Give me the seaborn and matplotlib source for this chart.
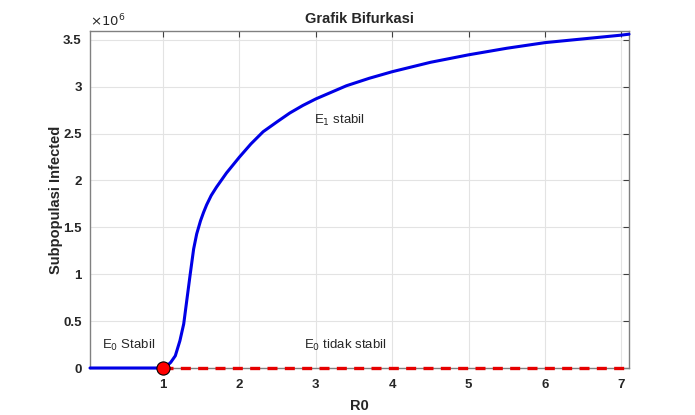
import matplotlib
matplotlib.use("Agg")
import matplotlib.pyplot as plt
import seaborn as sns
import numpy as np
import pandas as pd
from matplotlib.ticker import FuncFormatter

# Data
r0_e1 = [0.043, 1.0, 1.03, 1.06, 1.10, 1.16, 1.22, 1.27, 1.31, 1.355, 1.40, 1.44, 1.49,
         1.53, 1.57, 1.63, 1.70, 1.83, 2.0, 2.15, 2.31, 2.5, 2.66, 2.83, 3.0, 3.2, 3.4,
         3.7, 4.0, 4.5, 5.0, 5.5, 6.0, 6.5, 7.0, 7.1]
inf_e1 = [0, 0, 0.01e6, 0.03e6, 0.06e6, 0.13e6, 0.29e6, 0.47e6, 0.72e6, 1.0e6, 1.27e6,
          1.43e6, 1.57e6, 1.66e6, 1.74e6, 1.84e6, 1.93e6, 2.08e6, 2.25e6, 2.39e6, 2.52e6,
          2.63e6, 2.72e6, 2.80e6, 2.87e6, 2.94e6, 3.01e6, 3.09e6, 3.16e6, 3.26e6, 3.34e6,
          3.41e6, 3.47e6, 3.51e6, 3.55e6, 3.56e6]
r0_e0 = [1.0, 7.1]
inf_e0 = [0, 0]
bif_r0 = [1.0]
bif_inf = [0]
x_ticks = [1, 2, 3, 4, 5, 6, 7]
y_ticks = [0, 0.5e6, 1e6, 1.5e6, 2e6, 2.5e6, 3e6, 3.5e6]

sns.set_style("white")
plt.rcParams['font.family'] = ['Liberation Sans', 'DejaVu Sans']

fig = plt.figure(figsize=(6.95, 4.15), dpi=100)
ax = fig.add_axes([90/695, 47/415, 539/695, 337/415])

df1 = pd.DataFrame({"R0": r0_e1, "I": inf_e1})
df0 = pd.DataFrame({"R0": r0_e0, "I": inf_e0})
sns.lineplot(data=df1, x="R0", y="I", ax=ax, color="#0000e6", linewidth=2.2, sort=False, zorder=3)
sns.lineplot(data=df0, x="R0", y="I", ax=ax, color="#e60000", linewidth=2.4, zorder=4)
ax.lines[-1].set_linestyle((0, (3.0, 2.2)))
for ln in ax.lines:
    ln.set_clip_on(False)
ax.plot(bif_r0, bif_inf, 'o', markersize=9.5, markerfacecolor="#ff0000",
        markeredgecolor="black", markeredgewidth=0.8, zorder=5, clip_on=False)

ax.set_xlim(0.043, 7.1)
ax.set_ylim(0, 3.594e6)
ax.set_xticks(x_ticks)
ax.set_yticks(y_ticks)
ax.yaxis.set_major_formatter(FuncFormatter(lambda v, p: f"{v/1e6:g}"))
ax.grid(True, color="#e3e3e3", linewidth=0.8)
ax.set_axisbelow(True)
for s in ax.spines.values():
    s.set_color("#808080")
    s.set_linewidth(1.0)
ax.tick_params(direction="in", length=4, color="#404040", top=True, right=True,
               labelsize=9.5)
ax.tick_params(axis="x", pad=8)
ax.tick_params(axis="y", pad=6)
for lab in ax.get_xticklabels() + ax.get_yticklabels():
    lab.set_fontweight("bold")
    lab.set_color("#262626")

ax.set_title("Grafik Bifurkasi", fontsize=10.5, fontweight="bold", pad=6)
ax.set_xlabel("R0", fontsize=10.5, fontweight="bold", labelpad=6)
ax.set_ylabel("Subpopulasi Infected", fontsize=10.5, fontweight="bold", labelpad=0)

ax.text(0.0, 1.005, r"$\times10^{6}$", transform=ax.transAxes, fontsize=9.5,
        ha="left", va="bottom", color="#262626")

ax.text(0.2, 0.2e6, r"E$_0$ Stabil", fontsize=9.5)
ax.text(2.85, 0.2e6, r"E$_0$ tidak stabil", fontsize=9.5)
ax.text(2.97, 2.6e6, r"E$_1$ stabil", fontsize=9.5)

fig.savefig("out.png", dpi=100)
